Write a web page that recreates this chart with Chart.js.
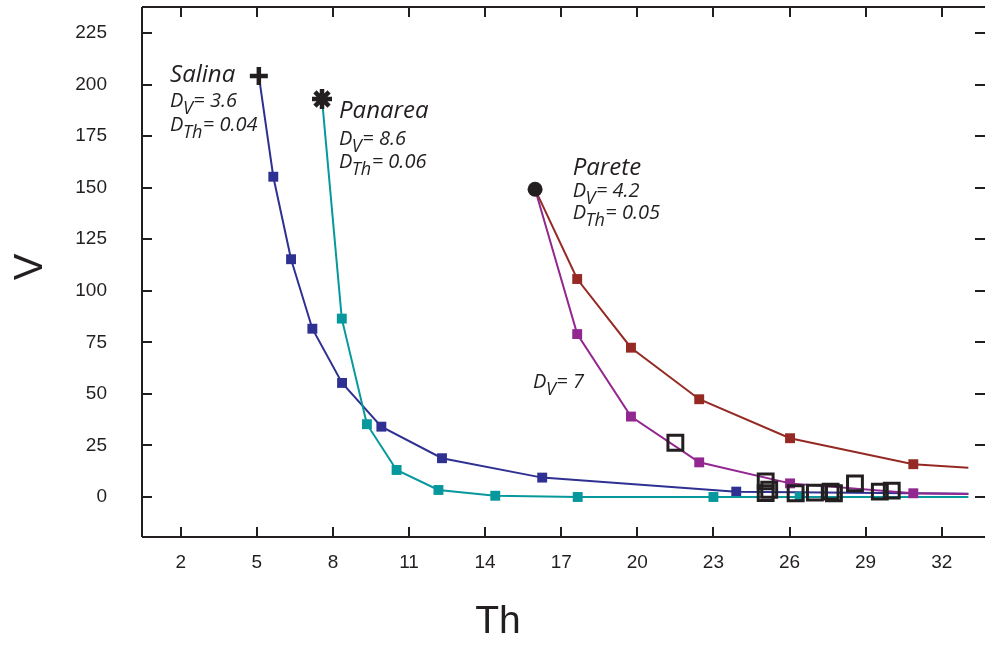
<!DOCTYPE html>
<html><head><meta charset="utf-8">
<script src="https://cdn.jsdelivr.net/npm/chart.js@4.4.1/dist/chart.umd.min.js"></script>
<style>html,body{margin:0;padding:0;background:#fff;}#wrap{width:985px;height:652px;}</style>
</head><body><div id="wrap"><canvas id="c" width="985" height="652"></canvas></div>
<script>
// ---- data ----
const xTicks = [2, 5, 8, 11, 14, 17, 20, 23, 26, 29, 32];
const yTicks = [0, 25, 50, 75, 100, 125, 150, 175, 200, 225];

// first point = volcano start marker, last point = model tail (no marker)
const salinaTh  = [5.08, 5.65, 6.35, 7.19, 8.36, 9.91, 12.30, 16.25, 23.9, 33.05];
const salinaV   = [204.2, 155.3, 115.3, 81.6, 55.3, 34.1, 18.8, 9.4, 2.6, 1.6];
const panareaTh = [7.57, 8.35, 9.34, 10.51, 12.16, 14.4, 17.65, 23.0, 26.4, 33.05];
const panareaV  = [193.0, 86.5, 35.3, 13.1, 3.4, 0.6, 0, 0, 0, 0];
const pareteTh  = [15.97, 17.63, 19.75, 22.44, 26.02, 30.88, 33.05];
const pareteV42 = [149.2, 105.7, 72.4, 47.4, 28.5, 15.9, 14.2];
const pareteV7  = [149.2, 79.0, 39.0, 16.8, 6.6, 1.8, 1.5];
const obsTh = [21.5, 25.06, 25.06, 25.2, 26.24, 27.0, 27.62, 27.75, 28.58, 29.56, 30.03];
const obsV  = [26.3, 7.6, 1.9, 3.5, 1.8, 2.1, 2.6, 1.8, 6.6, 2.6, 3.1];

const labelNames = ['Salina', 'Panarea', 'Parete'];
const labelDV    = ['3.6', '8.6', '4.2'];
const labelDTh   = ['0.04', '0.06', '0.05'];
const labelTh    = [1.58, 8.24, 17.45];
const labelNameV = [201.4, 183.8, 156.1];
const labelDVV   = [189.3, 170.7, 145.5];
const labelDThV  = [177.5, 159.5, 134.8];
const extraDV = '7', extraTh = 15.89, extraV = 52.9;

// ---- helpers ----
const INK = '#231f20';
const pts = (xs, ys) => xs.map((x, i) => ({x: x, y: ys[i]}));
const midRadius = r => ctx => (ctx.dataIndex === 0 || ctx.dataIndex === ctx.dataset.data.length - 1) ? 0 : r;

function line(label, xs, ys, color, order) {
  return {
    label, data: pts(xs, ys), showLine: true, borderColor: color, backgroundColor: color,
    borderWidth: 2, pointStyle: 'rect', pointRadius: midRadius(7), pointBorderWidth: 0,
    pointBackgroundColor: color, tension: 0, order
  };
}

const datasets = [
  {label: 'Salina start', data: [{x: salinaTh[0], y: salinaV[0]}], pointStyle: 'cross', pointRadius: 9,
   borderColor: INK, pointBorderWidth: 4.5, order: 0},
  {label: 'Panarea start', data: [{x: panareaTh[0], y: panareaV[0]}], pointStyle: 'star', pointRadius: 10,
   borderColor: INK, pointBorderWidth: 4.5, order: 0},
  {label: 'Parete start', data: [{x: pareteTh[0], y: pareteV42[0]}], pointStyle: 'circle', pointRadius: 7.5,
   backgroundColor: INK, borderColor: INK, pointBorderWidth: 0, order: 0},
  {label: 'observed', data: pts(obsTh, obsV), pointStyle: 'rect', pointRadius: 10.5, pointBorderWidth: 3,
   borderColor: INK, backgroundColor: 'rgba(0,0,0,0)', order: 1},
  line('Parete DV=7', pareteTh, pareteV7, '#92278f', 2),
  line('Parete DV=4.2', pareteTh, pareteV42, '#952a24', 3),
  line('Panarea', panareaTh, panareaV, '#06989c', 4),
  line('Salina', salinaTh, salinaV, '#2e3192', 5)
];

function drawSub(ctx, x, y, sub, val, size) {
  ctx.font = 'italic ' + size + 'px "Open Sans"';
  ctx.fillText('D', x, y);
  let w = ctx.measureText('D').width;
  const ss = Math.round(size * 0.9);
  ctx.font = 'italic ' + ss + 'px "Open Sans"';
  ctx.fillText(sub, x + w - 0.5, y + 7);
  w += ctx.measureText(sub).width;
  ctx.font = 'italic ' + size + 'px "Open Sans"';
  ctx.fillText('= ' + val, x + w, y);
}

const framePlugin = {
  id: 'frame',
  beforeDatasetsDraw(chart) {
    const {ctx, chartArea: a, scales: {x, y}} = chart;
    ctx.save();
    ctx.strokeStyle = INK; ctx.lineWidth = 2;
    ctx.beginPath();
    ctx.moveTo(a.left, a.top); ctx.lineTo(a.right, a.top);
    ctx.moveTo(a.left, a.top); ctx.lineTo(a.left, a.bottom);
    ctx.moveTo(a.left, a.bottom); ctx.lineTo(a.right, a.bottom);
    const T = 10;
    xTicks.forEach(v => {
      const p = Math.round(x.getPixelForValue(v));
      ctx.moveTo(p, a.bottom); ctx.lineTo(p, a.bottom - T);
      ctx.moveTo(p, a.top); ctx.lineTo(p, a.top + T);
    });
    yTicks.forEach(v => {
      const p = Math.round(y.getPixelForValue(v));
      ctx.moveTo(a.left, p); ctx.lineTo(a.left + T, p);
      ctx.moveTo(a.right, p); ctx.lineTo(a.right - T, p);
    });
    ctx.stroke();
    ctx.restore();
  },
  afterDraw(chart) {
    const {ctx, scales: {x, y}} = chart;
    ctx.save();
    ctx.fillStyle = INK;
    ctx.textAlign = 'left'; ctx.textBaseline = 'alphabetic';
    labelNames.forEach((n, i) => {
      const px = x.getPixelForValue(labelTh[i]);
      ctx.font = 'italic 24px "Open Sans"';
      ctx.fillText(n, px, y.getPixelForValue(labelNameV[i]));
      drawSub(ctx, px, y.getPixelForValue(labelDVV[i]), 'V', labelDV[i], 20);
      drawSub(ctx, px, y.getPixelForValue(labelDThV[i]), 'Th', labelDTh[i], 20);
    });
    drawSub(ctx, x.getPixelForValue(extraTh), y.getPixelForValue(extraV), 'V', extraDV, 20);
    // axis titles
    ctx.font = '39px "Liberation Sans"';
    ctx.textAlign = 'center';
    ctx.fillText('Th', 498, 633);
    ctx.save();
    ctx.translate(42, 267); ctx.rotate(-Math.PI / 2);
    ctx.font = '40px "Liberation Sans"';
    ctx.textBaseline = 'alphabetic';
    ctx.fillText('V', 0, 0);
    ctx.restore();
    ctx.restore();
  }
};

function zeroPad(s) { s.paddingTop = 0; s.paddingBottom = 0; s.paddingLeft = 0; s.paddingRight = 0; }

const tickFont = {family: '"Liberation Sans"', size: 19};
new Chart(document.getElementById('c'), {
  type: 'scatter',
  data: {datasets},
  options: {
    responsive: false, animation: false, devicePixelRatio: 1,
    layout: {autoPadding: false, padding: {top: 7, left: 0, right: 0, bottom: 0}},
    plugins: {legend: {display: false}, tooltip: {enabled: false}, title: {display: false}},
    scales: {
      x: {
        type: 'linear', position: 'bottom', min: 0.474, max: 33.706,
        afterBuildTicks: s => { s.ticks = xTicks.map(v => ({value: v})); },
        afterFit: s => { s.height = 115; zeroPad(s); },
        grid: {display: false, drawTicks: false}, border: {display: false},
        ticks: {padding: 14, font: tickFont, color: INK, maxRotation: 0, autoSkip: false, callback: v => String(v)}
      },
      y: {
        type: 'linear', position: 'left', min: -19.4, max: 237.6,
        afterBuildTicks: s => { s.ticks = yTicks.map(v => ({value: v})); },
        afterFit: s => { s.width = 142; zeroPad(s); },
        grid: {display: false, drawTicks: false}, border: {display: false},
        ticks: {padding: 35, font: tickFont, color: INK, autoSkip: false, callback: v => String(v)}
      }
    }
  },
  plugins: [framePlugin]
});
</script></body></html>
